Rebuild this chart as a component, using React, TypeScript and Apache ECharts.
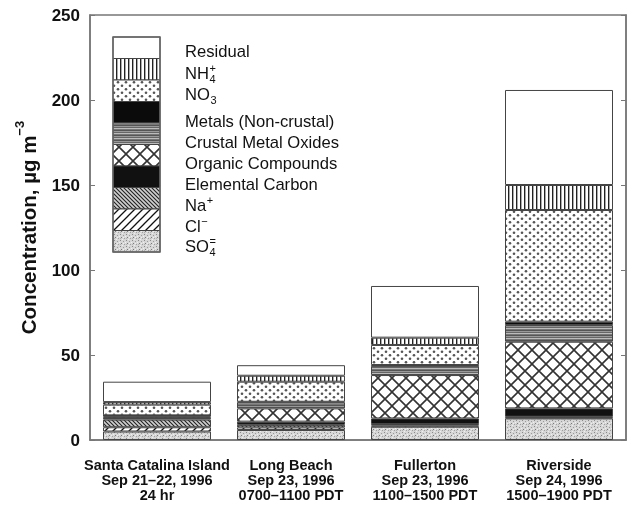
import React, { useEffect, useRef } from 'react';
import * as echarts from 'echarts';

// ---------- data ----------
const sites = [
  'Santa Catalina Island\nSep 21–22, 1996\n24 hr',
  'Long Beach\nSep 23, 1996\n0700–1100 PDT',
  'Fullerton\nSep 23, 1996\n1100–1500 PDT',
  'Riverside\nSep 24, 1996\n1500–1900 PDT',
];

// stacked from bottom to top
const componentNames = [
  'SO4=',
  'Cl-',
  'Na+',
  'Elemental Carbon',
  'Organic Compounds',
  'Crustal Metal Oxides',
  'Metals (Non-crustal)',
  'NO3-',
  'NH4+',
  'Residual',
];

const so4 = [5, 5.9, 7.8, 12.7];
const cl = [2.5, 1.5, 0.8, 0.5];
const na = [4.5, 1.5, 0.8, 0.5];
const elementalCarbon = [1, 1.9, 3.3, 4.9];
const organic = [0.8, 7.8, 25.5, 39.2];
const crustal = [0.5, 3.5, 5.4, 9.8];
const metals = [0.2, 0.4, 0.5, 2];
const no3 = [6.3, 11.8, 11.8, 65.7];
const nh4 = [1.5, 3.5, 4.3, 14.7];
const residual = [12, 6.2, 30.4, 55.9];

const componentValues = [so4, cl, na, elementalCarbon, organic, crustal, metals, no3, nh4, residual];

// legend labels (top to bottom): main text, superscript, subscript
const legendMain = ['Residual', 'NH', 'NO', 'Metals (Non-crustal)', 'Crustal Metal Oxides', 'Organic Compounds', 'Elemental Carbon', 'Na', 'Cl', 'SO'];
const legendSup = ['', '+', '', '', '', '', '', '+', '−', '='];
const legendSub = ['', '4', '3', '', '', '', '', '', '', '4'];

const yTicks = { min: 0, max: 250, interval: 50 };

// ---------- patterns ----------
type Draw = (ctx: CanvasRenderingContext2D, w: number, h: number) => void;
function makePattern(w: number, h: number, draw: Draw): any {
  const c = document.createElement('canvas');
  c.width = w;
  c.height = h;
  const ctx = c.getContext('2d') as CanvasRenderingContext2D;
  draw(ctx, w, h);
  return { image: c.toDataURL(), repeat: 'repeat', imageWidth: w, imageHeight: h };
}

function buildFills(): any[] {
  const so4P = makePattern(6, 6, (ctx) => {
    ctx.fillStyle = '#d6d6d6';
    ctx.fillRect(0, 0, 6, 6);
    const pts: [number, number, string][] = [
      [0, 0, '#8a8a8a'], [3, 1, '#9a9a9a'], [1, 3, '#7a7a7a'], [4, 4, '#a0a0a0'],
      [5, 2, '#f0f0f0'], [2, 5, '#eeeeee'], [0, 4, '#b0b0b0'], [3, 3, '#efefef'],
    ];
    pts.forEach(([x, y, c]) => { ctx.fillStyle = c; ctx.fillRect(x, y, 1, 1); });
  });
  const clP = makePattern(8, 8, (ctx) => {
    ctx.fillStyle = '#fff';
    ctx.fillRect(0, 0, 8, 8);
    ctx.strokeStyle = '#111';
    ctx.lineWidth = 1.3;
    ctx.beginPath();
    ctx.moveTo(-1, 9); ctx.lineTo(9, -1);
    ctx.moveTo(-1, 1); ctx.lineTo(1, -1);
    ctx.moveTo(7, 9); ctx.lineTo(9, 7);
    ctx.stroke();
  });
  const naP = makePattern(4, 4, (ctx) => {
    ctx.fillStyle = '#cfcfcf';
    ctx.fillRect(0, 0, 4, 4);
    ctx.strokeStyle = '#222';
    ctx.lineWidth = 1.1;
    ctx.beginPath();
    ctx.moveTo(-1, -1); ctx.lineTo(5, 5);
    ctx.moveTo(-1, 3); ctx.lineTo(1, 5);
    ctx.moveTo(3, -1); ctx.lineTo(5, 1);
    ctx.stroke();
  });
  const orgP = makePattern(14, 14, (ctx) => {
    ctx.fillStyle = '#fff';
    ctx.fillRect(0, 0, 14, 14);
    ctx.strokeStyle = '#333';
    ctx.lineWidth = 1.6;
    ctx.beginPath();
    ctx.moveTo(-1, -1); ctx.lineTo(15, 15);
    ctx.moveTo(-1, 15); ctx.lineTo(15, -1);
    ctx.stroke();
  });
  const crustP = makePattern(1, 5, (ctx) => {
    const rows = ['#555', '#999', '#666', '#bbb', '#777'];
    rows.forEach((c, i) => { ctx.fillStyle = c; ctx.fillRect(0, i, 1, 1); });
  });
  const no3P = makePattern(8, 7, (ctx) => {
    ctx.fillStyle = '#fff';
    ctx.fillRect(0, 0, 8, 7);
    ctx.fillStyle = '#555';
    ctx.beginPath(); ctx.arc(2, 1.75, 1.3, 0, Math.PI * 2); ctx.fill();
    ctx.beginPath(); ctx.arc(6, 5.25, 1.3, 0, Math.PI * 2); ctx.fill();
  });
  const nh4P = makePattern(4, 1, (ctx) => {
    ctx.fillStyle = '#fff';
    ctx.fillRect(0, 0, 4, 1);
    ctx.fillStyle = '#222';
    ctx.fillRect(0, 0, 1, 1);
    ctx.fillStyle = '#aaa';
    ctx.fillRect(1, 0, 1, 1);
  });
  // order matches componentNames (bottom -> top)
  return [so4P, clP, naP, '#111111', orgP, crustP, '#0b0b0b', no3P, nh4P, '#ffffff'];
}

const FONT = '"Liberation Sans", Arial, Helvetica, sans-serif';

function measure(text: string, font: string): number {
  const c = document.createElement('canvas');
  const ctx = c.getContext('2d') as CanvasRenderingContext2D;
  ctx.font = font;
  return ctx.measureText(text).width;
}

export default function App() {
  const ref = useRef<HTMLDivElement>(null);
  useEffect(() => {
    if (!ref.current) return;
    const chart = echarts.init(ref.current, null, { renderer: 'svg' });
    const fills = buildFills();

    const series = componentNames.map((name, i) => ({
      name,
      type: 'bar',
      stack: 'total',
      barWidth: 108,
      data: componentValues[i],
      itemStyle: { color: fills[i], borderColor: '#444', borderWidth: 1 },
      emphasis: { disabled: true },
    }));

    // legend (manual, stacked swatches)
    const lgX = 113;
    const lgTop = 37;
    const lgW = 47;
    const lgH = 21.5;
    const labelX = 185;
    const labelY = [51, 73, 94, 121, 142, 163, 184, 205, 226, 246];
    const legendFont = 16.6;
    const graphics: any[] = [];
    legendMain.forEach((txt, i) => {
      const compIdx = componentNames.length - 1 - i;
      graphics.push({
        type: 'rect',
        shape: { x: lgX, y: lgTop + i * lgH, width: lgW, height: lgH },
        style: { fill: fills[compIdx], stroke: '#444', lineWidth: 1 },
        silent: true,
      });
      graphics.push({
        type: 'text',
        x: labelX,
        y: labelY[i],
        style: { text: txt, font: `${legendFont}px ${FONT}`, fill: '#111', verticalAlign: 'middle' },
        silent: true,
      });
      const w = measure(txt, `${legendFont}px ${FONT}`);
      if (legendSup[i]) {
        graphics.push({
          type: 'text',
          x: labelX + w + 0.5,
          y: labelY[i] - 5,
          style: { text: legendSup[i], font: `11px ${FONT}`, fill: '#111', verticalAlign: 'middle' },
          silent: true,
        });
      }
      if (legendSub[i]) {
        graphics.push({
          type: 'text',
          x: labelX + w + 0.5,
          y: labelY[i] + 6,
          style: { text: legendSub[i], font: `11px ${FONT}`, fill: '#111', verticalAlign: 'middle' },
          silent: true,
        });
      }
    });
    graphics.push({
      type: 'rect',
      shape: { x: lgX, y: lgTop, width: lgW, height: lgH * legendMain.length },
      style: { fill: 'none', stroke: '#666', lineWidth: 1.5 },
      silent: true,
    });

    chart.setOption({
      animation: false,
      textStyle: { fontFamily: FONT },
      grid: { left: 90, right: 6, top: 15, bottom: 66, show: true, borderColor: '#777', borderWidth: 1.5, backgroundColor: 'transparent' },
      xAxis: {
        type: 'category',
        data: sites,
        axisTick: { show: false },
        axisLine: { show: true, lineStyle: { color: '#777', width: 1.5 } },
        axisLabel: { interval: 0, fontSize: 14.5, fontWeight: 'bold', lineHeight: 15, margin: 17, color: '#111', fontFamily: FONT },
      },
      yAxis: [
        {
          type: 'value',
          ...yTicks,
          position: 'left',
          axisLine: { show: true, lineStyle: { color: '#777', width: 1.5 } },
          axisTick: { show: true, inside: true, length: 5, lineStyle: { color: '#777' } },
          splitLine: { show: false },
          axisLabel: { fontSize: 17, fontWeight: 'bold', color: '#111', margin: 10, fontFamily: FONT },
          name: '{b|Concentration, µg m}{sup|−3}',
          nameLocation: 'middle',
          nameRotate: 90,
          nameGap: 47,
          nameTextStyle: {
            rich: {
              b: { fontSize: 20.5, fontWeight: 'bold', color: '#111', fontFamily: FONT, lineHeight: 30 },
              sup: { fontSize: 13, fontWeight: 'bold', color: '#111', fontFamily: FONT, verticalAlign: 'top', lineHeight: 13 },
            },
          },
        },
        {
          type: 'value',
          ...yTicks,
          position: 'right',
          axisLine: { show: true, lineStyle: { color: '#777', width: 1.5 } },
          axisTick: { show: true, inside: true, length: 5, lineStyle: { color: '#777' } },
          splitLine: { show: false },
          axisLabel: { show: false },
        },
      ],
      series,
      graphic: graphics,
    });
    return () => chart.dispose();
  }, []);
  return <div ref={ref} style={{ position: 'fixed', left: 0, top: 0, width: 632, height: 506 }} />;
}
